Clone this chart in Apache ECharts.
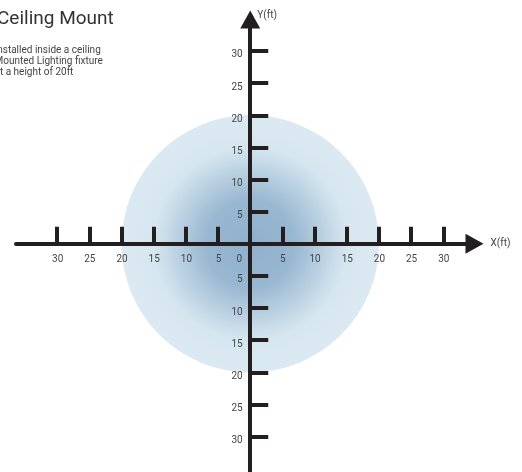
<!DOCTYPE html>
<html><head><meta charset="utf-8">
<script src="https://cdn.jsdelivr.net/npm/echarts@6/dist/echarts.min.js"></script>
<style>html,body{margin:0;padding:0;background:#fff}#c{width:522px;height:472px}</style>
</head><body><div id="c"></div>
<script>
// ---- data ----
const titleText = 'Ceiling Mount';
const noteLines = ['Installed inside a ceiling', 'Mounted Lighting fixture', 'at a height of 20ft'];
const xTicks = [-30, -25, -20, -15, -10, -5, 0, 5, 10, 15, 20, 25, 30];
const yTicks = [-30, -25, -20, -15, -10, -5, 0, 5, 10, 15, 20, 25, 30];
const xRange = [-36.4, 34.85];
const yRange = [-35.5, 34.9];
const beamCenter = [0, 0];
const beamRadius = 20;
const xName = 'X(ft)';
const yName = 'Y(ft)';

// ---- chart ----
const chart = echarts.init(document.getElementById('c'), null, { renderer: 'canvas' });
const FONT = 'Roboto';
const AX = '#231f20';
const LBL = '#444';

const beamFill = {
  type: 'radial', x: 0.5, y: 0.5, r: 0.5,
  colorStops: [
    { offset: 0, color: '#8fb0cc' },
    { offset: 0.34, color: '#98b7d1' },
    { offset: 0.75, color: '#d6e6ef' },
    { offset: 1, color: '#dbe9f2' }
  ]
};

const noteGraphics = noteLines.map((t, i) => ({
  type: 'text', x: -5.5, y: 50.8 + i * 10.7,
  style: { text: t, fill: '#444', font: '10px ' + FONT, textAlign: 'left', textVerticalAlign: 'middle' }
}));

chart.setOption({
  animation: false,
  backgroundColor: '#fff',
  grid: { left: 16, right: 47.5, top: 19.5, bottom: 0, containLabel: false, outerBoundsMode: 'none' },
  xAxis: {
    type: 'value', min: xRange[0], max: xRange[1], position: 'bottom', z: 10,
    splitLine: { show: false },
    axisLine: { show: true, onZero: true, symbol: ['none', 'triangle'], symbolSize: [20, 18],
      lineStyle: { color: AX, width: 4 } },
    axisTick: { show: true, inside: true, length: 17, customValues: xTicks, lineStyle: { color: AX, width: 4 } },
    axisLabel: { show: false },
    name: xName, nameLocation: 'end', nameGap: 16,
    nameTextStyle: { color: LBL, fontSize: 10, fontFamily: FONT, align: 'left', verticalAlign: 'middle', padding: [4, 0, 0, 0] }
  },
  yAxis: {
    type: 'value', min: yRange[0], max: yRange[1], position: 'left', z: 10,
    splitLine: { show: false },
    axisLine: { show: true, onZero: true, symbol: ['none', 'triangle'], symbolSize: [20, 18],
      lineStyle: { color: AX, width: 4 } },
    axisTick: { show: true, inside: true, length: 18, customValues: yTicks, lineStyle: { color: AX, width: 4 } },
    axisLabel: { show: false },
    name: yName, nameLocation: 'end', nameGap: 4,
    nameTextStyle: { color: LBL, fontSize: 10, fontFamily: FONT, align: 'left', verticalAlign: 'middle', padding: [0, 0, 0, 7] }
  },
  graphic: [
    { type: 'text', x: -3, y: 19.5,
      style: { text: titleText, fill: '#333', font: '19px ' + FONT, textAlign: 'left', textVerticalAlign: 'middle' } }
  ].concat(noteGraphics),
  series: [{
    type: 'custom', z: 1, clip: false, silent: true,
    data: [[beamCenter[0], beamCenter[1], beamRadius]],
    encode: { x: 0, y: 1 },
    renderItem: function (params, api) {
      const c = api.coord([api.value(0), api.value(1)]);
      const e = api.coord([api.value(0) + api.value(2), api.value(1)]);
      const r = e[0] - c[0];
      return { type: 'circle', shape: { cx: c[0], cy: c[1], r: r }, style: { fill: beamFill } };
    }
  }, {
    // x-axis tick labels, placed on the zero line through the axis scale
    type: 'custom', z: 20, clip: false, silent: true,
    data: xTicks.map(v => [v, 0]),
    encode: { x: 0, y: 1 },
    renderItem: function (params, api) {
      const v = api.value(0);
      const p = api.coord([v, api.value(1)]);
      return { type: 'text', x: p[0] + (v === 0 ? -11 : 0.5), y: p[1] + 16,
        style: { text: String(Math.abs(v)), fill: LBL, font: '10px ' + FONT, align: 'center', verticalAlign: 'middle' } };
    }
  }, {
    // y-axis tick labels
    type: 'custom', z: 20, clip: false, silent: true,
    data: yTicks.filter(v => v !== 0).map(v => [0, v]),
    encode: { x: 0, y: 1 },
    renderItem: function (params, api) {
      const v = api.value(1);
      const p = api.coord([api.value(0), v]);
      return { type: 'text', x: p[0] - 7.6, y: p[1] + 4,
        style: { text: String(Math.abs(v)), fill: LBL, font: '10px ' + FONT, align: 'right', verticalAlign: 'middle' } };
    }
  }]
});
</script>
</body></html>
